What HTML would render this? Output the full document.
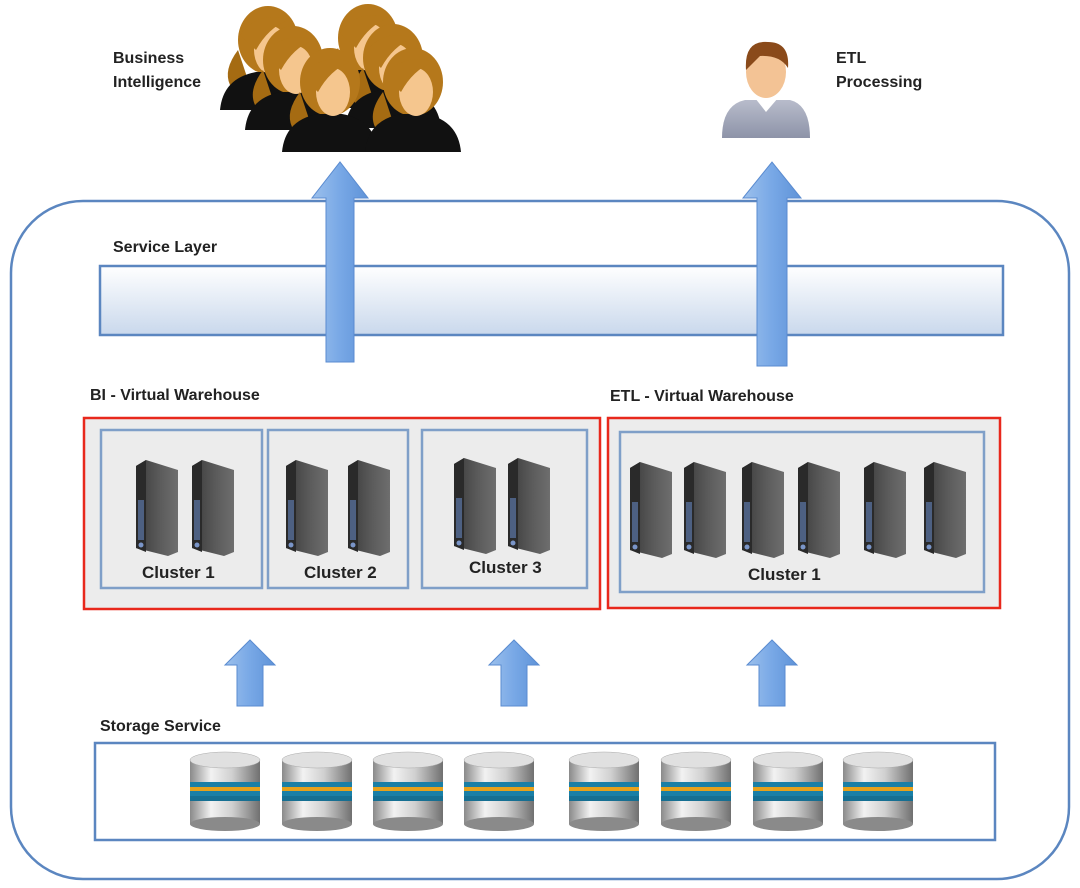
<!DOCTYPE html>
<html><head><meta charset="utf-8"><style>
html,body{margin:0;padding:0;background:#fff;}
svg{display:block;}
text{font-family:"Liberation Sans",sans-serif;font-weight:bold;fill:#222;}
</style></head><body>
<svg width="1080" height="888" viewBox="0 0 1080 888" xmlns="http://www.w3.org/2000/svg">
<defs>
<linearGradient id="svc" x1="0" y1="0" x2="0" y2="1">
<stop offset="0" stop-color="#ffffff"/><stop offset="1" stop-color="#c9d8ec"/></linearGradient>
<linearGradient id="arr" x1="0" y1="0" x2="1" y2="0">
<stop offset="0" stop-color="#9cc0ec"/><stop offset="0.5" stop-color="#78a8e6"/><stop offset="1" stop-color="#5f93d8"/></linearGradient>
<linearGradient id="metal" x1="0" y1="0" x2="1" y2="0">
<stop offset="0" stop-color="#8a8a8a"/><stop offset="0.3" stop-color="#f2f2f2"/><stop offset="0.6" stop-color="#d0d0d0"/><stop offset="1" stop-color="#707070"/></linearGradient>
<linearGradient id="srv" x1="0" y1="0" x2="1" y2="0">
<stop offset="0" stop-color="#3a3a3a"/><stop offset="0.55" stop-color="#5a5a5a"/><stop offset="1" stop-color="#6e6e6e"/></linearGradient>
<linearGradient id="etlp" x1="0" y1="0" x2="0" y2="1">
<stop offset="0" stop-color="#b8bccb"/><stop offset="1" stop-color="#8d93a8"/></linearGradient>
<g id="db">
<rect x="-35" y="8" width="70" height="64" fill="url(#metal)"/>
<ellipse cx="0" cy="72" rx="35" ry="7" fill="#8a8a8a"/>
<rect x="-35" y="30" width="70" height="5" fill="#1a7fa6"/>
<rect x="-35" y="35" width="70" height="4" fill="#e6a11c"/>
<rect x="-35" y="39" width="70" height="5" fill="#1a7fa6"/>
<rect x="-35" y="44" width="70" height="5" fill="#166f92"/>
<ellipse cx="0" cy="8" rx="35" ry="8" fill="#e0e0e0" stroke="#aaa" stroke-width="0.5"/>
</g>
<g id="server">
<polygon points="0,6 10,0 42,10 42,92 32,96 0,88" fill="url(#srv)"/>
<polygon points="0,6 10,0 10,92 0,88" fill="#2a2a2a"/>
<rect x="2" y="40" width="6" height="40" fill="#5d77a8" opacity="0.7"/>
<circle cx="5" cy="85" r="2.5" fill="#7a95c8"/>
</g>
<g id="woman">
<ellipse cx="0" cy="0" rx="30" ry="34" fill="#b5781b"/>
<path d="M-30,10 Q-45,30 -38,45 L-20,40 Z" fill="#a56b12"/>
<path d="M-48,70 Q-45,38 -12,32 L12,32 Q45,38 48,70 Z" fill="#111"/>
<ellipse cx="3" cy="10" rx="17" ry="24" fill="#f5c68e"/>
<path d="M-28,-5 Q-10,-30 20,-20 Q0,-12 -12,10 Z" fill="#b5781b"/>
</g>
</defs>

<!-- outer -->
<rect x="11" y="201" width="1058" height="678" rx="72" fill="#fff" stroke="#5b86c0" stroke-width="2.5"/>

<!-- people -->
<use href="#woman" x="268" y="40"/>
<use href="#woman" x="368" y="38"/>
<use href="#woman" x="293" y="60"/>
<use href="#woman" x="393" y="58"/>
<use href="#woman" x="330" y="82"/>
<use href="#woman" x="413" y="82"/>
<!-- ETL person -->
<path d="M722,138 Q722,105 745,100 L790,100 Q810,105 810,138 Z" fill="url(#etlp)"/>
<path d="M755,98 L766,112 L778,98 Z" fill="#fff"/>
<ellipse cx="766" cy="72" rx="20" ry="26" fill="#f3c395"/>
<path d="M746,70 Q744,40 768,42 Q790,42 788,68 Q780,55 760,56 Z" fill="#8a4a1a"/>

<text x="113" y="63" font-size="16">Business</text>
<text x="113" y="87" font-size="16">Intelligence</text>
<text x="836" y="63" font-size="16">ETL</text>
<text x="836" y="87" font-size="16">Processing</text>

<text x="113" y="252" font-size="16">Service Layer</text>
<rect x="100" y="266" width="903" height="69" fill="url(#svc)" stroke="#5b86c0" stroke-width="2.5"/>

<!-- big arrows -->
<polygon points="326,362 354,362 354,198 368,198 340,162 312,198 326,198" fill="url(#arr)" stroke="#5a8bd0" stroke-width="1"/>
<polygon points="757,366 787,366 787,198 801,198 772,162 743,198 757,198" fill="url(#arr)" stroke="#5a8bd0" stroke-width="1"/>

<text x="90" y="400" font-size="16">BI - Virtual Warehouse</text>
<text x="610" y="401" font-size="16">ETL  - Virtual Warehouse</text>

<rect x="84" y="418" width="516" height="191" fill="#ececec" stroke="#e8281c" stroke-width="2.5"/>
<rect x="608" y="418" width="392" height="190" fill="#ececec" stroke="#e8281c" stroke-width="2.5"/>

<g fill="#ececec" stroke="#7f9fc8" stroke-width="2.5">
<rect x="101" y="430" width="161" height="158"/>
<rect x="268" y="430" width="140" height="158"/>
<rect x="422" y="430" width="165" height="158"/>
<rect x="620" y="432" width="364" height="160"/>
</g>
<use href="#server" x="136" y="460"/><use href="#server" x="192" y="460"/>
<use href="#server" x="286" y="460"/><use href="#server" x="348" y="460"/>
<use href="#server" x="454" y="458"/><use href="#server" x="508" y="458"/>
<use href="#server" x="630" y="462"/><use href="#server" x="684" y="462"/>
<use href="#server" x="742" y="462"/><use href="#server" x="798" y="462"/>
<use href="#server" x="864" y="462"/><use href="#server" x="924" y="462"/>

<g font-size="17" fill="#555" style="font-weight:bold">
<text x="142" y="578" fill="#666">Cluster 1</text>
<text x="304" y="578" fill="#666">Cluster 2</text>
<text x="469" y="573" fill="#666">Cluster 3</text>
<text x="748" y="580" fill="#666">Cluster 1</text>
</g>

<!-- small arrows -->
<polygon points="237,706 263,706 263,665 275,665 250,640 225,665 237,665" fill="url(#arr)" stroke="#5a8bd0"/>
<polygon points="501,706 527,706 527,665 539,665 514,640 489,665 501,665" fill="url(#arr)" stroke="#5a8bd0"/>
<polygon points="759,706 785,706 785,665 797,665 772,640 747,665 759,665" fill="url(#arr)" stroke="#5a8bd0"/>

<text x="100" y="731" font-size="16">Storage Service</text>
<rect x="95" y="743" width="900" height="97" fill="#fff" stroke="#5b86c0" stroke-width="2.5"/>
<use href="#db" x="225" y="752"/><use href="#db" x="317" y="752"/>
<use href="#db" x="408" y="752"/><use href="#db" x="499" y="752"/>
<use href="#db" x="604" y="752"/><use href="#db" x="696" y="752"/>
<use href="#db" x="788" y="752"/><use href="#db" x="878" y="752"/>
</svg>
</body></html>
